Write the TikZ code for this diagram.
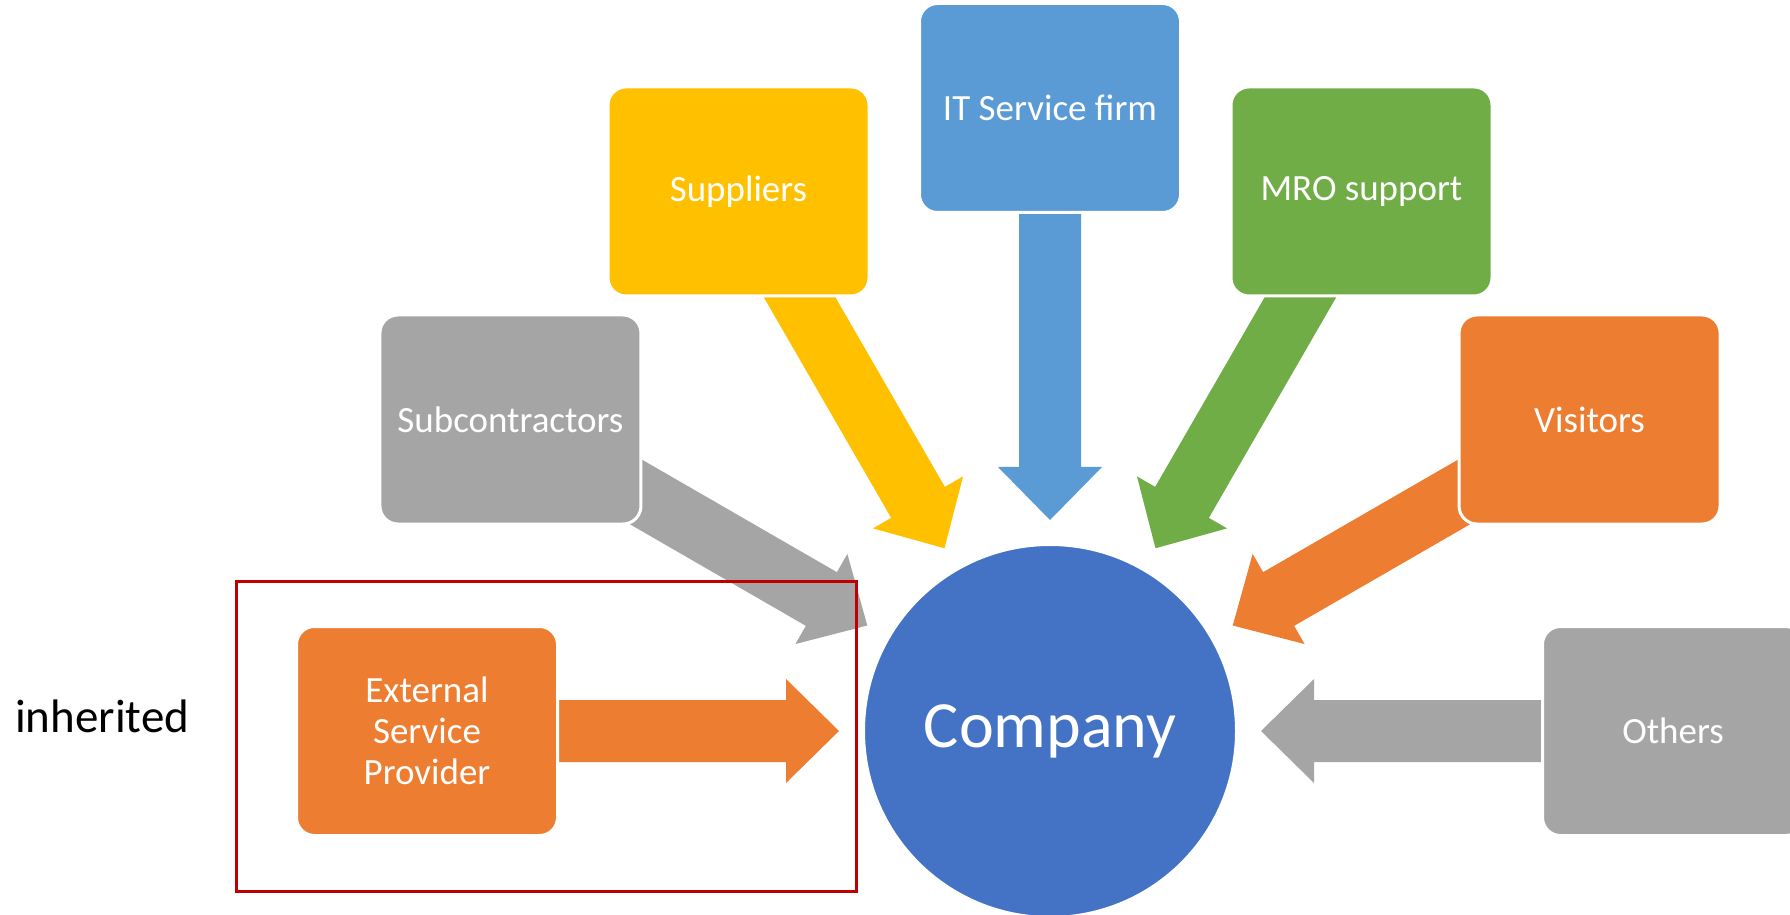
\documentclass[tikz,border=0pt]{standalone}
\usepackage{fontspec}
\setmainfont{Carlito}
\usetikzlibrary{calc}

\definecolor{boxgrey}{HTML}{A5A5A5}
\definecolor{boxyellow}{HTML}{FFC000}
\definecolor{boxblue}{HTML}{5B9BD5}
\definecolor{boxgreen}{HTML}{70AD47}
\definecolor{boxorange}{HTML}{ED7D31}
\definecolor{hubblue}{HTML}{4472C4}
\definecolor{framered}{HTML}{C00000}

\pgfdeclarelayer{paper}
\pgfdeclarelayer{arrowlayer}
\pgfsetlayers{paper,arrowlayer,main}

% Block arrow from a source box towards the hub circle
\newcommand\radialarrow[2]{%
  \coordinate (#2-tip) at ($(company.center)!211pt!(#2.center)$);
  \coordinate (#2-head) at ($(#2-tip)!53pt!(#2.center)$);
  \fill[#1] ($(#2.center)!31pt!90:(#2-tip)$)
    -- ($(#2-head)!31pt!90:(#2-tip)$)
    -- ($(#2-head)!52pt!90:(#2-tip)$)
    -- (#2-tip)
    -- ($(#2-head)!52pt!-90:(#2-tip)$)
    -- ($(#2-head)!31pt!-90:(#2-tip)$)
    -- ($(#2.center)!31pt!-90:(#2-tip)$) -- cycle;
}

\tikzset{
  partybox/.style={rectangle, rounded corners=18pt, draw=white, line width=3pt,
    minimum width=261pt, minimum height=209pt, inner sep=0pt, text=white,
    align=center, font=\fontsize{37}{41}\selectfont},
  hub/.style={circle, fill=hubblue, draw=white, line width=2pt, minimum size=372pt,
    inner sep=0pt, text=white, font=\fontsize{66}{79}\selectfont},
  groupframe/.style={draw=framered, line width=3pt, minimum width=620pt,
    minimum height=310pt, inner sep=0pt},
}

\begin{document}
\begin{tikzpicture}[x=1pt,y=1pt]
  \useasboundingbox (0,0) rectangle (1790,914);
  \clip (0,0) rectangle (1790,914);
  \begin{pgfonlayer}{paper}
    \fill[white] (0,0) rectangle (1790,914);
  \end{pgfonlayer}

  \coordinate (hubc) at (1050,183);
  \node[hub] (company) at (hubc) {Company};

  \node[partybox, fill=boxorange] (esp)    at ([shift={(180:623)}]hubc) {External\\Service\\Provider};
  \node[partybox, fill=boxgrey]   (sub)    at ([shift={(150:623)}]hubc) {Subcontractors};
  \node[partybox, fill=boxyellow] (supp)   at ([shift={(120:623)}]hubc) {Suppliers};
  \node[partybox, fill=boxblue]   (itfirm) at ([shift={(90:623)}]hubc)  {IT Service firm};
  \node[partybox, fill=boxgreen]  (mro)    at ([shift={(60:623)}]hubc)  {MRO support};
  \node[partybox, fill=boxorange] (visit)  at ([shift={(30:623)}]hubc)  {Visitors};
  \node[partybox, fill=boxgrey]   (others) at ([shift={(0:623)}]hubc)   {Others};

  \begin{pgfonlayer}{arrowlayer}
    \radialarrow{boxorange}{esp}
    \radialarrow{boxgrey}{sub}
    \radialarrow{boxyellow}{supp}
    \radialarrow{boxblue}{itfirm}
    \radialarrow{boxgreen}{mro}
    \radialarrow{boxorange}{visit}
    \radialarrow{boxgrey}{others}
  \end{pgfonlayer}

  \node[groupframe] (group) at (546,178) {};
  \node[anchor=west, inner sep=0pt, font=\fontsize{47}{56}\selectfont] (inh) at (15,198) {inherited};
\end{tikzpicture}
\end{document}
